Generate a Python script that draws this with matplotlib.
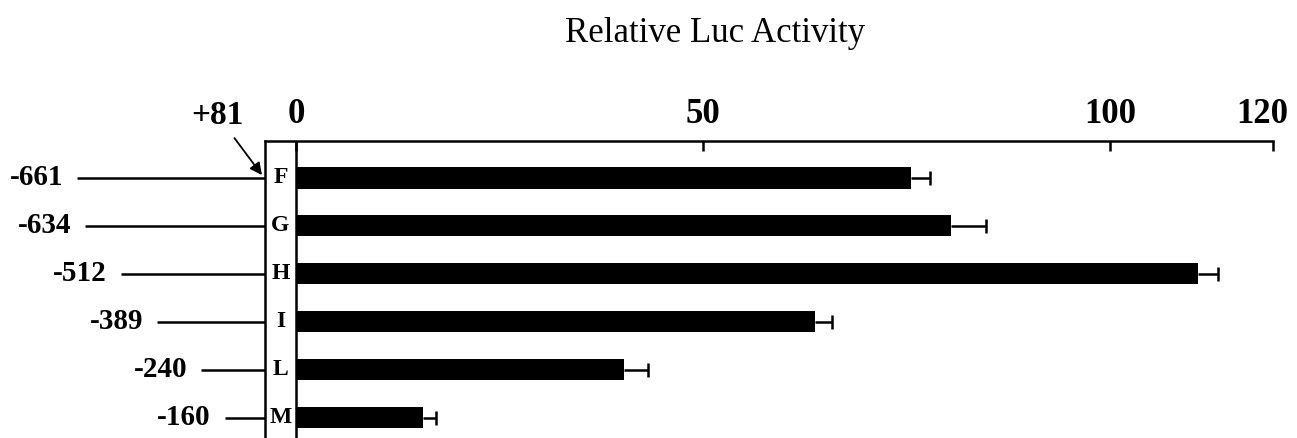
#!/usr/bin/env python
'''Relative Luc activity of promoter deletion constructs.'''

import matplotlib as mpl
mpl.use('agg')
import matplotlib.pyplot as plt
import matplotlib.transforms as mtransforms
import numpy as np

plt.rcParams['font.family'] = ['Liberation Serif', 'DejaVu Serif']

# constructs (5' end of each deletion, common 3' end at +81)
constructs = ['F', 'G', 'H', 'I', 'L', 'M']
start_labels = ['-661', '-634', '-512', '-389', '-240', '-160']
starts = [-661, -634, -512, -389, -240, -160]
end_pos = 81
# relative luciferase activity and error (upper only)
activity = [75.6, 80.4, 110.8, 63.8, 40.3, 15.6]
errors = [2.3, 4.4, 2.4, 2.0, 3.0, 1.6]
ticks = [0, 50, 100, 120]

W, H = 1297, 438
LW = 1.8

fig = plt.figure(figsize=(W / 100, H / 100), dpi=100)
top = 1 - 141 / H
ypos = np.arange(len(constructs))
ylim = (5.42, -0.77)

# construct map (genomic coordinates), drawn behind the bar axes
axm = fig.add_axes([0, 0, 296 / W, top], zorder=1)
axm.set_xlim(-922, end_pos)
axm.set_ylim(*ylim)
axm.axis('off')
axm.hlines(ypos, starts, end_pos, color='black', lw=LW)
for y, s, lab in zip(ypos, starts, start_labels):
    axm.annotate(lab, xy=(s, y), xytext=(-10, 0), textcoords='offset points',
                 ha='right', va='center', fontsize=21, fontweight='bold')

# bar axes
ax = fig.add_axes([265 / W, 0, (1273 - 265) / W, top], zorder=2)
ax.set_facecolor('white')
ax.barh(ypos, activity, height=0.44, color='black')
# one-sided error bars
err_end = np.add(activity, errors)
ax.hlines(ypos, activity, err_end, color='black', lw=LW)
ax.plot(err_end, ypos, linestyle='none', marker='|', ms=9.5, mew=LW,
        color='black')
ax.set_xlim(-3.8, 120)
ax.set_ylim(*ylim)
ax.axvline(0, color='black', lw=LW)
for y, c in zip(ypos, constructs):
    ax.text(-1.9, y, c, ha='center', va='center', fontsize=17, fontweight='bold')

for side in ('right', 'bottom'):
    ax.spines[side].set_visible(False)
for side in ('top', 'left'):
    ax.spines[side].set_linewidth(LW)
ax.xaxis.tick_top()
ax.set_xticks(ticks)
ax.set_yticks([])
ax.tick_params(axis='x', direction='in', length=7, width=LW, pad=7,
               labelsize=25)
labels = ax.get_xticklabels()
for t in labels:
    t.set_fontweight('bold')
# keep the last label inside the figure
shift = mtransforms.ScaledTranslation(-8 / 72, 0, fig.dpi_scale_trans)
labels[-1].set_transform(labels[-1].get_transform() + shift)

ax.annotate('+81', xy=(-0.003, -0.06), xycoords=('axes fraction', 'data'),
            xytext=(-32, 43), textcoords='offset points',
            ha='center', va='center', fontsize=24, fontweight='bold',
            arrowprops=dict(arrowstyle='-|>', color='black', lw=1.3,
                            mutation_scale=18, shrinkA=4, shrinkB=0))

fig.text(715 / W, 1 - 34 / H, 'Relative Luc Activity', ha='center', va='center',
         fontsize=25)

fig.savefig('out.png', dpi=100)
